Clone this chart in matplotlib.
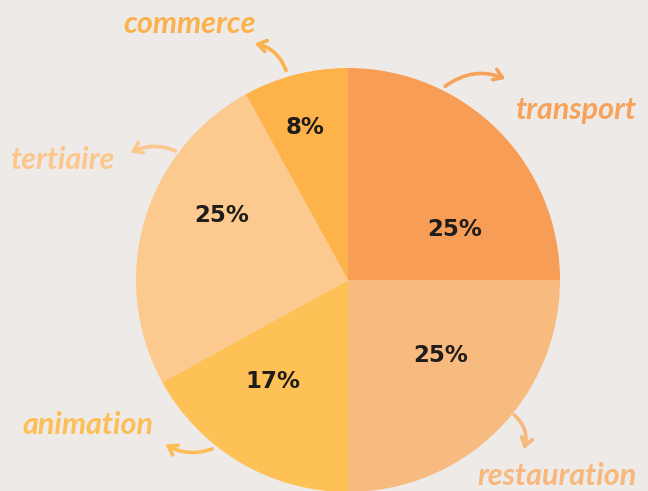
import matplotlib
matplotlib.use("Agg")
from matplotlib import pyplot as plt

# chart data
categories = ['transport', 'restauration', 'animation', 'tertiaire', 'commerce']
shares = [25, 25, 17, 25, 8]
colors = ['#F89D55', '#F7BA7F', '#FEC156', '#FCC98F', '#FDB24A']
label_colors = ['#F7A259', '#F7B77D', '#FDBF55', '#FCC78D', '#FCB24C']

W, H = 648, 491
bg = '#EDEAE7'

fig = plt.figure(figsize=(W / 100, H / 100), dpi=100, facecolor=bg)
ax = fig.add_axes([0, 0, 1, 1])
ax.set_facecolor(bg)

def py(y):
    # image pixel row -> data y
    return H - y

cx, cy, r = 348, 280, 212
wedges, texts = ax.pie(shares, colors=colors, startangle=90, counterclock=False,
                       center=(cx, py(cy)), radius=r, frame=True,
                       wedgeprops={'linewidth': 0})
ax.set_xlim(0, W)
ax.set_ylim(0, H)
ax.set_aspect('equal')
ax.axis('off')

# percentage labels
pct_pos = [(455, 229), (441, 355), (273, 381), (222, 215), (305, 127)]
for v, (x, y) in zip(shares, pct_pos):
    ax.text(x, py(y), f'{v}%', ha='center', va='center', fontsize=16.5,
            fontweight='bold', color='#1f1c1a', family='DejaVu Sans Condensed')

# category labels with curved arrows
name_pos = [(576, 110), (557, 476), (88, 425), (62, 160), (190, 24)]
arrows = [((443, 88), (508, 80), -0.3),
          ((512, 413), (523, 452), -0.35),
          ((215, 448), (163, 443), -0.25),
          ((178, 152), (128, 154), 0.25),
          ((287, 73), (252, 43), 0.3)]
for name, col, (x, y), (a, b, rad) in zip(categories, label_colors, name_pos, arrows):
    ax.text(x, py(y), name, ha='center', va='center', fontsize=22,
            fontweight='bold', fontstyle='italic', color=col, family='Lato')
    ax.annotate('', xy=(b[0], py(b[1])), xytext=(a[0], py(a[1])),
                arrowprops=dict(arrowstyle='->,head_length=0.6,head_width=0.4',
                                color=col, lw=2.6, capstyle='round',
                                connectionstyle=f'arc3,rad={rad}'))

fig.savefig('out.png', dpi=100, facecolor=bg)
